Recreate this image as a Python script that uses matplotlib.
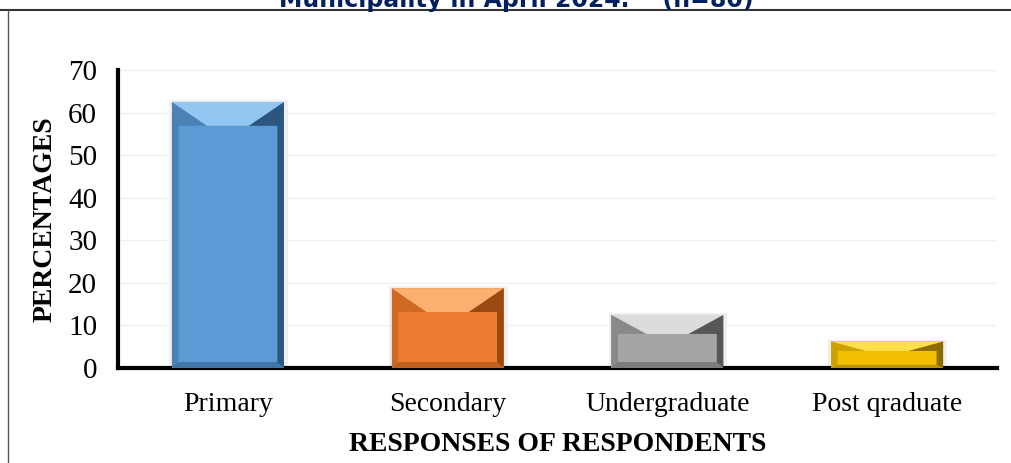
import matplotlib.pyplot as plt
from matplotlib.patches import Polygon, Rectangle
from matplotlib.lines import Line2D

# data
categories = ["Primary", "Secondary", "Undergraduate", "Post qraduate"]
percentages = [62.5, 18.75, 12.5, 6.25]
face_colors = ["#5b9bd5", "#ed7d31", "#a5a5a5", "#f2c000"]
light_colors = ["#93c6f0", "#f9b071", "#dcdcdc", "#ffdf4a"]
dark_colors = ["#244a70", "#8a400c", "#4a4a4a", "#7a5e00"]
yticks = [0, 10, 20, 30, 40, 50, 60, 70]

serif = "Liberation Serif"

fig = plt.figure(figsize=(10.11, 4.63), dpi=100)
ax = fig.add_axes([118 / 1011, 95 / 463, 879 / 1011, 298 / 463])

bars = ax.bar(range(len(categories)), percentages, width=0.51,
              color=face_colors, zorder=3)

# soft shadow and bevel on each bar
for bar, light, dark in zip(bars, light_colors, dark_colors):
    x0 = bar.get_x()
    x1 = x0 + bar.get_width()
    h = bar.get_height()
    bh = min(5.6, 0.36 * h)          # top bevel height
    bw = min(0.16, 0.025 * h + 0.04)  # top bevel horizontal inset
    side = 0.03
    bot = min(1.4, 0.12 * h)
    ax.add_patch(Rectangle((x0 - 0.012, 0), x1 - x0 + 0.03, h + 0.4,
                           color="#ececec", alpha=0.8, zorder=2, lw=0))
    # left strip
    ax.add_patch(Polygon([(x0, 0), (x0, h), (x0 + bw, h - bh),
                          (x0 + side, h - bh), (x0 + side, bot)],
                         closed=True, color=dark, alpha=0.3, lw=0, zorder=4))
    # right strip
    ax.add_patch(Polygon([(x1, 0), (x1, h), (x1 - bw, h - bh),
                          (x1 - side, h - bh), (x1 - side, bot)],
                         closed=True, color=dark, alpha=0.85, lw=0, zorder=4))
    # bottom
    ax.add_patch(Polygon([(x0, 0), (x1, 0), (x1 - side, bot), (x0 + side, bot)],
                         closed=True, color=dark, alpha=0.45, lw=0, zorder=4))
    # top
    ax.add_patch(Polygon([(x0, h), (x1, h), (x1 - bw, h - bh), (x0 + bw, h - bh)],
                         closed=True, color=light, lw=0, zorder=5))

ax.set_xlim(-0.5, 3.5)
ax.set_ylim(0, 70)
ax.set_yticks(yticks)
ax.set_xticks(range(len(categories)))
ax.set_xticklabels(categories, fontsize=20, fontfamily=serif)
ax.set_yticklabels([str(t) for t in yticks], fontsize=21, fontfamily=serif)
ax.tick_params(axis="both", length=0)
ax.tick_params(axis="x", pad=17)
ax.tick_params(axis="y", pad=15)

ax.grid(axis="y", color="#f0f0f0", linewidth=1, zorder=0)
for s in ["top", "right"]:
    ax.spines[s].set_visible(False)
ax.spines["left"].set_linewidth(3)
ax.spines["bottom"].set_linewidth(3)

ax.set_xlabel("RESPONSES OF RESPONDENTS", fontsize=20, fontweight="bold",
              fontfamily=serif, labelpad=11)
ax.set_ylabel("PERCENTAGES", fontsize=20, fontweight="bold",
              fontfamily=serif)
ax.yaxis.set_label_coords(-0.069, 0.5)

# frame around the picture and the clipped title above it
fig.add_artist(Line2D([0, 1], [1 - 9.5 / 463] * 2, color="#333333", lw=1.5))
fig.add_artist(Line2D([8 / 1011] * 2, [0, 1 - 9.5 / 463], color="#555555", lw=1))
fig.text(516 / 1011, 1 - 7 / 463, "Municipality in April 2024.    (n=80)",
         ha="center", va="baseline", fontsize=17, fontweight="bold",
         color="#002060", fontfamily="DejaVu Sans")

fig.savefig("out.png", dpi=100)
